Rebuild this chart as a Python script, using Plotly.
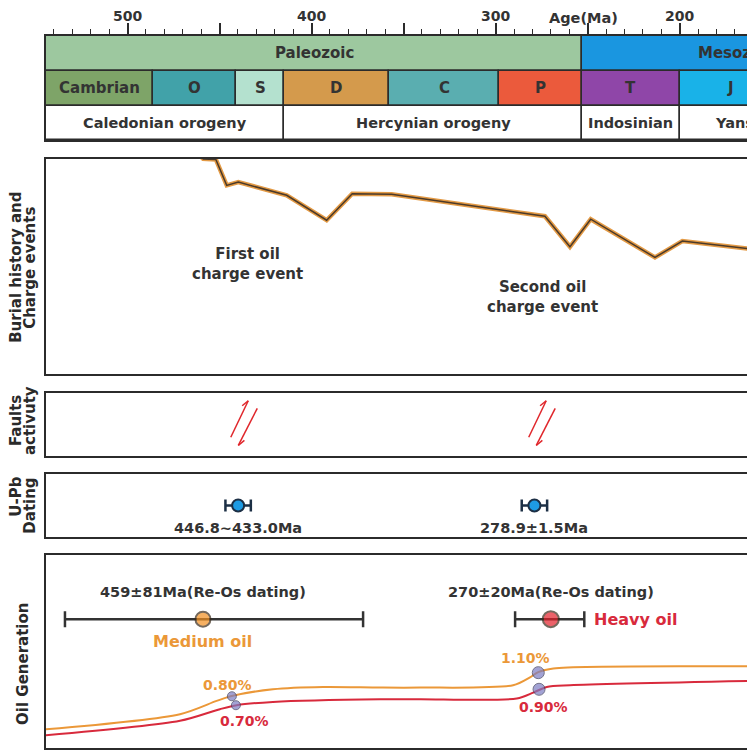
import plotly.graph_objects as go
from plotly.subplots import make_subplots

FONT = "DejaVu Sans, Verdana, sans-serif"
INK = "#333333"
FRAME = "#2b2b2b"

# visible part of the geological time axis (Ma)
age_range = [544.3, 154.7]

eras = ["Paleozoic", "Mesozoic"]
era_start = [544.3, 253]
era_end = [253, 85]
era_colors = ["#9dc89f", "#1a96e0"]

periods = ["Cambrian", "O", "S", "D", "C", "P", "T", "J"]
period_start = [544.3, 486, 441, 415, 358, 298, 253, 200]
period_end = [486, 441, 415, 358, 298, 253, 200, 145]
period_colors = ["#7ea468", "#41a2a9", "#b4e1cf", "#d49a4c",
                 "#5aaeb0", "#eb5a3c", "#8f46a8", "#19b2e8"]

orogenies = ["Caledonian orogeny", "Hercynian orogeny", "Indosinian", "Yanshanian"]
orogeny_start = [544.3, 415, 253, 200]
orogeny_end = [415, 253, 200, 110]

# burial history curve
burial_age = [461.0, 458.9, 452.0, 446.1, 439.8, 413.5, 391.8, 377.9, 356.5,
              273.2, 259.6, 248.3, 213.4, 198.5, 150.0]
burial_depth = [-4.0, 0.0, 0.6, 26.6, 23.3, 36.6, 61.6, 35.0, 35.6,
                57.6, 88.3, 60.6, 99.0, 82.6, 93.0]

# oil charge events
charge_start = [449.8, 289.1]
charge_end = [420.3, 259.6]
charge_labels = ["First oil<br>charge event", "Second oil<br>charge event"]

# fault activity
fault_age = [436.7, 274.8]

# U-Pb dating
upb_age = [439.9, 278.9]
upb_err = [6.9, 6.9]
upb_labels = ["446.8~433.0Ma", "278.9±1.5Ma"]

# Re-Os dating of oils
reos_age = [459, 270]
reos_older = [75, 19.4]
reos_younger = [87, 18.2]
reos_labels = ["459±81Ma(Re-Os dating)", "270±20Ma(Re-Os dating)"]
oil_names = ["Medium oil", "Heavy oil"]

# oil generation curves
medium_age = [546.0, 471.5, 451.6, 443.4, 421.0, 393.8, 362.8, 341.0,
              290.5, 281.3, 276.8, 268.6, 150.0]
medium_gen = [18.5, 34.0, 47.3, 52.3, 59.0, 61.3, 60.7, 60.7,
              63.0, 71.0, 76.3, 80.0, 81.9]
heavy_age = [546.0, 471.5, 449.8, 440.7, 421.0, 362.8, 341.0,
             288.5, 279.5, 272.2, 259.6, 150.0]
heavy_gen = [12.5, 27.3, 39.0, 43.0, 46.3, 49.0, 49.0,
             49.7, 55.7, 61.3, 63.0, 67.7]

# vitrinite reflectance points
ro_age = [443.3, 441.1, 276.8, 276.4]
ro_gen = [52.0, 43.0, 75.7, 59.0]
ro_labels = ["0.80%", "0.70%", "1.10%", "0.90%"]

ORANGE = "#eb9838"
RED = "#d82a3c"

# the page puts the figure 8 px from the window corner
PAGE = 8
TOP, LEFT, BOTTOM = 33 - PAGE, 46 - PAGE, 755 - (748.5 - PAGE)
PLOT_H = 755 - TOP - BOTTOM


def py(px):
    return (748.5 - px) / PLOT_H


def pxx(px):
    return (px - 46) / (755 - LEFT)


def font(size, color=INK):
    return dict(family=FONT, size=size, color=color, weight="bold")


fig = make_subplots(
    rows=5,
    cols=1,
    row_heights=[105, 216.3, 63.3, 63.4, 193.5],
    vertical_spacing=18.5 / PLOT_H,
)

# ---- time scale
rows = [("era", eras, era_start, era_end, era_colors),
        ("period", periods, period_start, period_end, period_colors),
        ("orogeny", orogenies, orogeny_start, orogeny_end, ["white"] * 4)]
for key, names, starts, ends, colors in rows:
    fig.add_trace(
        go.Bar(
            y=[key] * len(names),
            x=[s - e for s, e in zip(starts, ends)],
            base=ends,
            orientation="h",
            width=1,
            marker=dict(color=colors, line=dict(color=FRAME, width=1.5)),
            hoverinfo="skip",
        ),
        row=1,
        col=1,
    )
    for name, s, e in zip(names, starts, ends):
        fig.add_annotation(x=(s + e) / 2, y=key, text=name, showarrow=False,
                           font=font(15 if key != "orogeny" else 14.5),
                           xref="x", yref="y")

fig.add_annotation(x=252, y=py(15), xref="x", yref="paper", text="Age(Ma)",
                   showarrow=False, font=font(14.5), yanchor="middle")

# ---- burial history
for s, e in zip(charge_start, charge_end):
    fig.add_vrect(x0=s, x1=e, fillcolor="#cccccc", line_width=0,
                  layer="below", row=2, col=1)
for s, e, txt, d in zip(charge_start, charge_end, charge_labels, [106, 139]):
    fig.add_annotation(x=(s + e) / 2, y=d, text=txt, showarrow=False,
                       font=font(15), xref="x2", yref="y2")

fig.add_trace(go.Scatter(x=burial_age, y=burial_depth, mode="lines",
                         line=dict(color="#e39a45", width=4.5)), row=2, col=1)
fig.add_trace(go.Scatter(x=burial_age, y=burial_depth, mode="lines",
                         line=dict(color="#4b3a2a", width=1.5)), row=2, col=1)

# ---- faults activity
for f in fault_age:
    strands = [
        (f + 7.2, 0.29, f - 2.3, 0.87),
        (f - 2.3, 0.87, f + 1.0, 0.79),
        (f - 7.2, 0.75, f + 3.1, 0.16),
        (f + 3.1, 0.16, f - 0.2, 0.24),
    ]
    for x0, y0, x1, y1 in strands:
        fig.add_shape(type="line", x0=x0, y0=y0, x1=x1, y1=y1,
                      xref="x3", yref="y3",
                      line=dict(color="#e0262b", width=1.5))

# ---- U-Pb dating
fig.add_trace(
    go.Scatter(
        x=upb_age, y=[0.5, 0.5], mode="markers",
        marker=dict(size=12, color="#1e9be3", line=dict(color="#1c2f45", width=2)),
        error_x=dict(type="data", array=upb_err, color="#1c2f45",
                     thickness=2.5, width=6),
    ),
    row=4, col=1,
)
for a, txt in zip(upb_age, upb_labels):
    fig.add_annotation(x=a, y=0.5, text=txt, showarrow=False, yshift=-23,
                       font=font(14.5), xref="x4", yref="y4")

# ---- oil generation
REOS_LEVEL = 129.5
fig.add_trace(go.Scatter(x=medium_age, y=medium_gen, mode="lines",
                         line=dict(color=ORANGE, width=2, shape="spline", smoothing=0.8)),
              row=5, col=1)
fig.add_trace(go.Scatter(x=heavy_age, y=heavy_gen, mode="lines",
                         line=dict(color=RED, width=2, shape="spline", smoothing=0.8)),
              row=5, col=1)
fig.add_trace(
    go.Scatter(
        x=reos_age, y=[REOS_LEVEL] * 2, mode="markers",
        marker=dict(size=[15, 16], color=["#f39020", "#e3202a"],
                    line=dict(color="#3a2a1a", width=2)),
        error_x=dict(type="data", symmetric=False, array=reos_older,
                     arrayminus=reos_younger, color="#333333",
                     thickness=2.5, width=8),
    ),
    row=5, col=1,
)
for a, txt in zip(reos_age, reos_labels):
    fig.add_annotation(x=a, y=REOS_LEVEL, text=txt, showarrow=False, yshift=27,
                       font=font(14.5), xref="x5", yref="y5")
fig.add_annotation(x=reos_age[0], y=REOS_LEVEL, text=oil_names[0], showarrow=False,
                   yshift=-22, font=font(16, ORANGE), xref="x5", yref="y5")
fig.add_annotation(x=reos_age[1] - reos_younger[1], y=REOS_LEVEL, text=oil_names[1],
                   showarrow=False, xanchor="left", xshift=8,
                   font=font(16, RED), xref="x5", yref="y5")

fig.add_trace(
    go.Scatter(
        x=ro_age, y=ro_gen, mode="markers",
        marker=dict(size=[9, 9, 12, 12], color="#7b7cc2",
                    line=dict(color="#3a3a5a", width=1)),
    ),
    row=5, col=1,
)
shifts = [(-4, 11), (9, -16), (-13, 15), (4, -18)]
for a, g, txt, (dx, dy), c in zip(ro_age, ro_gen, ro_labels, shifts,
                                   [ORANGE, RED, ORANGE, RED]):
    fig.add_annotation(x=a, y=g, text=txt, showarrow=False, xshift=dx, yshift=dy,
                       font=font(14, c), xref="x5", yref="y5")

# ---- side titles (kept inside the page, which starts 8 px in)
side_titles = [
    ("Burial history and", 16, 266), ("Charge events", 30, 266),
    ("Faults", 16, 420), ("activuty", 30, 420),
    ("U-Pb", 16, 496), ("Dating", 30, 505),
    ("Oil Generation", 23, 664),
]
for txt, x, y in side_titles:
    fig.add_annotation(x=pxx(x), y=py(y), xref="paper", yref="paper", text=txt,
                       textangle=-90, showarrow=False, xanchor="center",
                       yanchor="middle", font=font(15, "#2a2a2a"))

# ---- axes
fig.update_xaxes(range=age_range, showgrid=False, zeroline=False,
                 showline=True, mirror=True, linecolor=FRAME, linewidth=2,
                 showticklabels=False, ticks="")
fig.update_yaxes(showgrid=False, zeroline=False, showline=True, mirror=False,
                 linecolor=FRAME, linewidth=2, showticklabels=False, ticks="")
fig.update_xaxes(
    side="top", ticks="outside", ticklen=11, tickwidth=1.5, tickcolor=FRAME,
    tickvals=[500, 450, 400, 350, 300, 250, 200],
    ticktext=["500", "", "400", "", "300", "", "200"],
    showticklabels=True, tickfont=font(14), ticklabelstandoff=-4,
    minor=dict(dtick=10, tick0=0, ticks="outside", ticklen=5,
               tickwidth=1.2, tickcolor=FRAME),
    row=1, col=1,
)
fig.update_yaxes(type="category", categoryarray=["orogeny", "period", "era"],
                 range=[-0.5, 2.5], row=1, col=1)
fig.update_yaxes(range=[216.3, 0], row=2, col=1)
fig.update_yaxes(range=[0, 1], row=3, col=1)
fig.update_yaxes(range=[0, 1], row=4, col=1)
fig.update_yaxes(range=[0, 193.5], row=5, col=1)

fig.update_layout(
    width=755,
    height=755,
    margin=dict(l=LEFT, r=0, t=TOP, b=BOTTOM),
    plot_bgcolor="white",
    paper_bgcolor="white",
    showlegend=False,
    bargap=0,
    barmode="overlay",
)

fig.write_html("out.html")
